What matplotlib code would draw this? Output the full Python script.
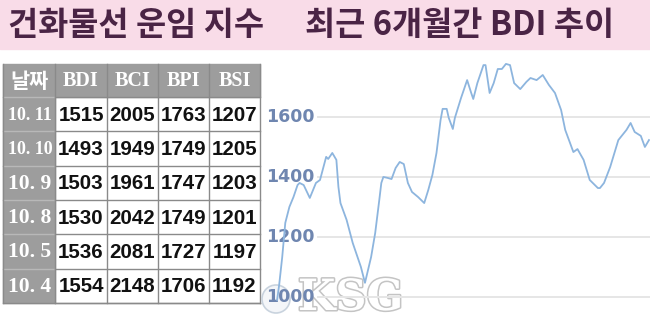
import numpy as np
import matplotlib
matplotlib.use("Agg")
import matplotlib.pyplot as plt
import matplotlib.patheffects as pe

# ---- data ----
title_left = "건화물선 운임 지수"
title_right = "최근 6개월간 BDI 추이"

col_names = ["날짜", "BDI", "BCI", "BPI", "BSI"]
dates = ["10. 11", "10. 10", "10. 9", "10. 8", "10. 5", "10. 4"]
bdi = [1515, 1493, 1503, 1530, 1536, 1554]
bci = [2005, 1949, 1961, 2042, 2081, 2148]
bpi = [1763, 1749, 1747, 1749, 1727, 1706]
bsi = [1207, 1205, 1203, 1201, 1197, 1192]

# BDI over last ~6 months (day offset, index value)
days = [0, 1, 2.5, 4, 6, 8, 10, 11, 13, 16, 19, 21, 24, 25, 27, 29, 30, 31,
        34, 37, 41, 43, 46, 48, 50, 51, 52, 54, 56, 58, 60, 62, 64, 66, 69,
        72, 74, 76, 78, 80, 81, 83, 84, 86, 87, 90, 93, 95, 96, 98, 101, 102,
        104, 106, 108, 110, 112, 114, 116, 119, 122, 124, 127, 130, 133, 136,
        139, 141, 145, 147, 150, 153, 157, 158, 160, 163, 167, 171, 173, 175,
        178, 180, 182]
bdi_hist = [990, 1040, 1133, 1247, 1300, 1333, 1373, 1380, 1373, 1330, 1380,
            1390, 1467, 1460, 1480, 1457, 1367, 1313, 1257, 1180, 1100, 1047,
            1133, 1213, 1323, 1380, 1400, 1397, 1393, 1430, 1450, 1443, 1380,
            1350, 1333, 1313, 1357, 1407, 1480, 1590, 1627, 1627, 1597, 1560,
            1597, 1663, 1723, 1680, 1660, 1713, 1773, 1773, 1680, 1713, 1760,
            1760, 1777, 1773, 1713, 1693, 1717, 1730, 1723, 1740, 1707, 1680,
            1623, 1557, 1483, 1493, 1457, 1390, 1363, 1363, 1380, 1433, 1523,
            1557, 1580, 1550, 1537, 1500, 1523]
yticks = [1000, 1200, 1400, 1600]

# ---- style ----
W, H = 650, 320
pink = "#f9dce8"
purple = "#4a2445"
gray = "#9d9d9d"
border = "#8a8a8a"
line_c = "#8db5de"
tick_c = "#6f86b0"
kr = ["Noto Sans CJK KR", "DejaVu Sans"]

fig = plt.figure(figsize=(W / 100, H / 100), dpi=100)
fig.patch.set_facecolor("white")

# chart axes (right side)
ax = fig.add_axes([262 / W, 0, (W - 262) / W, (H - 57) / H])
ax.set_xlim(-7.4, 182.5)
ax.set_ylim(923, 1800)
ax.axis("off")
for v in yticks:
    ax.axhline(v, xmin=0.145, xmax=1, color="#e6e6e6", lw=1.4, zorder=1)
    ax.text(0.01, v, str(v), transform=ax.get_yaxis_transform(), ha="left",
            va="center", fontsize=12.5, fontweight="bold", color=tick_c,
            family="DejaVu Sans", zorder=2)
ax.plot(days, bdi_hist, color=line_c, lw=1.3, zorder=3, solid_joinstyle="round")

# overlay axes in pixel coordinates for header, table and watermark
ov = fig.add_axes([0, 0, 1, 1])
ov.set_xlim(0, W)
ov.set_ylim(H, 0)
ov.axis("off")
ov.set_zorder(0)
ax.set_zorder(1)

ov.add_patch(plt.Rectangle((0, 0), W, 49, color=pink, zorder=1))
ov.text(8, 25, title_left, fontsize=23.6, fontweight="black", color=purple,
        family=kr, va="center", ha="left", zorder=2)
ov.text(305, 25, title_right, fontsize=23.6, fontweight="black", color=purple,
        family=kr, va="center", ha="left", zorder=2)

# table
x0, y0 = 3, 64
col_w = [52, 52, 51, 51, 51]
head_h = 33
row_h = 34.3
xs = np.concatenate([[x0], x0 + np.cumsum(col_w)])
rows = list(zip(dates, bdi, bci, bpi, bsi))

ov.add_patch(plt.Rectangle((x0, y0), sum(col_w), head_h, color=gray, zorder=2))
for j, name in enumerate(col_names):
    cx = (xs[j] + xs[j + 1]) / 2
    if j == 0:
        ov.text(cx, y0 + head_h / 2 + 1, name, ha="center", va="center", fontsize=15,
                fontweight="bold", color="white", family=kr, zorder=4)
    else:
        ov.text(cx, y0 + head_h / 2 + 1, name, ha="center", va="center", fontsize=14.5,
                fontweight="bold", color="white", family="Liberation Serif", zorder=4)

for i, r in enumerate(rows):
    top = y0 + head_h + i * row_h
    ov.add_patch(plt.Rectangle((x0, top), col_w[0], row_h, color=gray, zorder=2))
    ov.plot([x0, xs[1]], [top, top], color="#b8b8b8", lw=1, zorder=3)
    dsize = 13 if len(r[0]) > 5 else 15.5
    ov.text((xs[0] + xs[1]) / 2 + 1, top + row_h / 2 + 1, r[0], ha="center", va="center",
            fontsize=dsize, fontweight="bold", color="white", family="Liberation Serif", zorder=4)
    for j in range(1, 5):
        ov.text((xs[j] + xs[j + 1]) / 2, top + row_h / 2 + 1, str(r[j]), ha="center",
                va="center", fontsize=14.8, fontweight="bold", color="#111111",
                family="Liberation Sans", zorder=4)

y_end = y0 + head_h + len(rows) * row_h
for i in range(len(rows) + 1):
    yy = y0 + head_h + i * row_h
    ov.plot([xs[1], xs[-1]], [yy, yy], color=border, lw=1, zorder=3)
for j in range(1, len(xs)):
    ov.plot([xs[j], xs[j]], [y0, y_end], color=border, lw=1, zorder=3)
ov.plot([x0, xs[-1]], [y_end, y_end], color=border, lw=1, zorder=3)
ov.plot([x0, x0], [y0, y_end], color=border, lw=1, zorder=3)

# watermark (drawn below the chart layer): faint logo + KSG
ov.add_patch(plt.Circle((276, 299), 14, facecolor="#f4f6f9", edgecolor="#c9d3de",
                        lw=1.2, zorder=5))
ov.text(298, 319, "KSG", ha="left", va="bottom", fontsize=31, fontweight="bold",
        family="DejaVu Serif", color="white", zorder=5,
        path_effects=[pe.withStroke(linewidth=2.2, foreground="#c4c4c4")])

fig.savefig("out.png", dpi=100, facecolor="white")
